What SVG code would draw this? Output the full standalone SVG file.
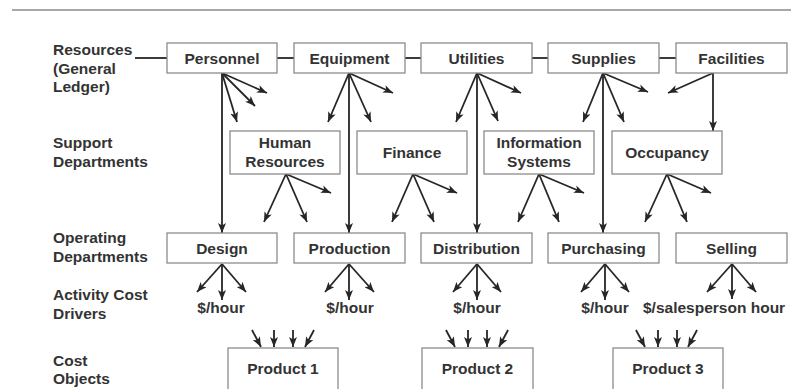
<svg xmlns="http://www.w3.org/2000/svg" width="791" height="389" viewBox="0 0 791 389">
<style>
  .box { fill: #ffffff; stroke: #8c8c8c; stroke-width: 1.3; }
  .t { font-family: "Liberation Sans", Arial, sans-serif; font-weight: bold; font-size: 15.5px; fill: #333333; }
  .c { text-anchor: middle; }
  .ln { stroke: #262626; stroke-width: 1.8; fill: none; }
  .ar { stroke: #262626; stroke-width: 1.8; fill: none; marker-end: url(#ah); }
</style>
<defs>
  <marker id="ah" viewBox="0 0 10 8" refX="10" refY="4" markerWidth="10" markerHeight="8" markerUnits="userSpaceOnUse" orient="auto">
    <path d="M0,0 L10,4 L0,8 L2.5,4 z" fill="#262626"/>
  </marker>
</defs>
<rect width="791" height="389" fill="#ffffff"/>
<line x1="12" y1="10" x2="791" y2="10" stroke="#8a8a8a" stroke-width="1.5"/>

<g id="row-labels">
  <text class="t" x="53" y="55">Resources</text>
  <text class="t" x="53" y="73.5">(General</text>
  <text class="t" x="53" y="92">Ledger)</text>
  <text class="t" x="53" y="148">Support</text>
  <text class="t" x="53" y="167">Departments</text>
  <text class="t" x="53" y="243">Operating</text>
  <text class="t" x="53" y="262">Departments</text>
  <text class="t" x="53" y="300">Activity Cost</text>
  <text class="t" x="53" y="319">Drivers</text>
  <text class="t" x="53" y="366">Cost</text>
  <text class="t" x="53" y="384">Objects</text>
</g>

<g id="connectors">
  <!-- resource row links -->
  <line class="ln" x1="135" y1="58" x2="167" y2="58"/>
  <line class="ln" x1="277" y1="58" x2="294" y2="58"/>
  <line class="ln" x1="405" y1="58" x2="421" y2="58"/>
  <line class="ln" x1="532" y1="58" x2="548" y2="58"/>
  <line class="ln" x1="659" y1="58" x2="676" y2="58"/>

  <!-- Personnel -->
  <line class="ar" x1="222" y1="73" x2="222" y2="233"/>
  <line class="ar" x1="222" y1="73" x2="267" y2="93"/>
  <line class="ar" x1="222" y1="73" x2="255" y2="106"/>
  <line class="ar" x1="222" y1="73" x2="237" y2="122"/>
  <!-- Equipment -->
  <line class="ar" x1="349" y1="73" x2="349" y2="233"/>
  <line class="ar" x1="349" y1="73" x2="328" y2="122"/>
  <line class="ar" x1="349" y1="73" x2="371" y2="122"/>
  <line class="ar" x1="349" y1="73" x2="393" y2="93"/>
  <!-- Utilities -->
  <line class="ar" x1="477" y1="73" x2="477" y2="233"/>
  <line class="ar" x1="477" y1="73" x2="456" y2="122"/>
  <line class="ar" x1="477" y1="73" x2="498" y2="121"/>
  <line class="ar" x1="477" y1="73" x2="521" y2="93"/>
  <!-- Supplies -->
  <line class="ar" x1="603" y1="73" x2="603" y2="233"/>
  <line class="ar" x1="603" y1="73" x2="583" y2="122"/>
  <line class="ar" x1="603" y1="73" x2="624" y2="122"/>
  <line class="ar" x1="603" y1="73" x2="648" y2="92"/>
  <!-- Facilities -->
  <line class="ar" x1="713" y1="73" x2="668" y2="93"/>
  <line class="ar" x1="713" y1="73" x2="713" y2="131"/>

  <!-- Human Resources -->
  <line class="ar" x1="286" y1="174" x2="264" y2="222"/>
  <line class="ar" x1="286" y1="174" x2="307" y2="222"/>
  <line class="ar" x1="286" y1="174" x2="331" y2="193"/>
  <!-- Finance -->
  <line class="ar" x1="413" y1="174" x2="392" y2="222"/>
  <line class="ar" x1="413" y1="174" x2="434" y2="222"/>
  <line class="ar" x1="413" y1="174" x2="457" y2="193"/>
  <!-- Information Systems -->
  <line class="ar" x1="539" y1="174" x2="518" y2="222"/>
  <line class="ar" x1="539" y1="174" x2="559" y2="222"/>
  <line class="ar" x1="539" y1="174" x2="584" y2="193"/>
  <!-- Occupancy -->
  <line class="ar" x1="667" y1="174" x2="645" y2="222"/>
  <line class="ar" x1="667" y1="174" x2="687" y2="222"/>
  <line class="ar" x1="667" y1="174" x2="711" y2="193"/>

  <!-- Operating to drivers -->
  <line class="ar" x1="222" y1="264" x2="197" y2="292"/>
  <line class="ar" x1="222" y1="264" x2="222" y2="300"/>
  <line class="ar" x1="222" y1="264" x2="246" y2="292"/>
  <line class="ar" x1="349" y1="264" x2="325" y2="292"/>
  <line class="ar" x1="349" y1="264" x2="349" y2="300"/>
  <line class="ar" x1="349" y1="264" x2="374" y2="292"/>
  <line class="ar" x1="477" y1="264" x2="453" y2="292"/>
  <line class="ar" x1="477" y1="264" x2="477" y2="300"/>
  <line class="ar" x1="477" y1="264" x2="501" y2="292"/>
  <line class="ar" x1="605" y1="264" x2="581" y2="292"/>
  <line class="ar" x1="605" y1="264" x2="605" y2="300"/>
  <line class="ar" x1="605" y1="264" x2="629" y2="292"/>
  <line class="ar" x1="732" y1="264" x2="707" y2="292"/>
  <line class="ar" x1="732" y1="264" x2="732" y2="299"/>
  <line class="ar" x1="732" y1="264" x2="756" y2="292"/>

  <!-- into products -->
  <line class="ar" x1="252" y1="330" x2="261" y2="347"/>
  <line class="ar" x1="274" y1="330" x2="274" y2="347"/>
  <line class="ar" x1="293" y1="330" x2="293" y2="347"/>
  <line class="ar" x1="314" y1="330" x2="305" y2="347"/>

  <line class="ar" x1="446" y1="330" x2="455" y2="347"/>
  <line class="ar" x1="468" y1="330" x2="468" y2="347"/>
  <line class="ar" x1="487" y1="330" x2="487" y2="347"/>
  <line class="ar" x1="508" y1="330" x2="499" y2="347"/>

  <line class="ar" x1="636" y1="330" x2="645" y2="347"/>
  <line class="ar" x1="658" y1="330" x2="658" y2="347"/>
  <line class="ar" x1="677" y1="330" x2="677" y2="347"/>
  <line class="ar" x1="697" y1="330" x2="688" y2="347"/>
</g>

<g id="personnel"><rect class="box" x="167" y="43" width="110" height="30"/><text class="t c" x="222" y="64">Personnel</text></g>
<g id="equipment"><rect class="box" x="294" y="43" width="111" height="30"/><text class="t c" x="349.5" y="64">Equipment</text></g>
<g id="utilities"><rect class="box" x="421" y="43" width="111" height="30"/><text class="t c" x="476.5" y="64">Utilities</text></g>
<g id="supplies"><rect class="box" x="548" y="43" width="111" height="30"/><text class="t c" x="603.5" y="64">Supplies</text></g>
<g id="facilities"><rect class="box" x="676" y="43" width="111" height="30"/><text class="t c" x="731.5" y="64">Facilities</text></g>

<g id="human-resources"><rect class="box" x="230" y="131" width="110" height="43"/><text class="t c" x="285" y="148">Human</text><text class="t c" x="285" y="167">Resources</text></g>
<g id="finance"><rect class="box" x="357" y="131" width="110" height="43"/><text class="t c" x="412" y="158">Finance</text></g>
<g id="information-systems"><rect class="box" x="484" y="131" width="110" height="43"/><text class="t c" x="539" y="148">Information</text><text class="t c" x="539" y="167">Systems</text></g>
<g id="occupancy"><rect class="box" x="612" y="131" width="110" height="43"/><text class="t c" x="667" y="158">Occupancy</text></g>

<g id="design"><rect class="box" x="167" y="233" width="110" height="30"/><text class="t c" x="222" y="254">Design</text></g>
<g id="production"><rect class="box" x="294" y="233" width="111" height="30"/><text class="t c" x="349.5" y="254">Production</text></g>
<g id="distribution"><rect class="box" x="421" y="233" width="111" height="30"/><text class="t c" x="476.5" y="254">Distribution</text></g>
<g id="purchasing"><rect class="box" x="548" y="233" width="111" height="30"/><text class="t c" x="603.5" y="254">Purchasing</text></g>
<g id="selling"><rect class="box" x="676" y="233" width="111" height="30"/><text class="t c" x="731.5" y="254">Selling</text></g>

<g id="driver-design"><text class="t c" x="221" y="313">$/hour</text></g>
<g id="driver-production"><text class="t c" x="350" y="313">$/hour</text></g>
<g id="driver-distribution"><text class="t c" x="477" y="313">$/hour</text></g>
<g id="driver-purchasing"><text class="t c" x="605" y="313">$/hour</text></g>
<g id="driver-selling"><text class="t" x="643" y="313">$/salesperson hour</text></g>

<g id="product-1"><rect class="box" x="228" y="348" width="110" height="60"/><text class="t c" x="283" y="374">Product 1</text></g>
<g id="product-2"><rect class="box" x="422" y="348" width="111" height="60"/><text class="t c" x="477.5" y="374">Product 2</text></g>
<g id="product-3"><rect class="box" x="613" y="348" width="110" height="60"/><text class="t c" x="668" y="374">Product 3</text></g>
</svg>
